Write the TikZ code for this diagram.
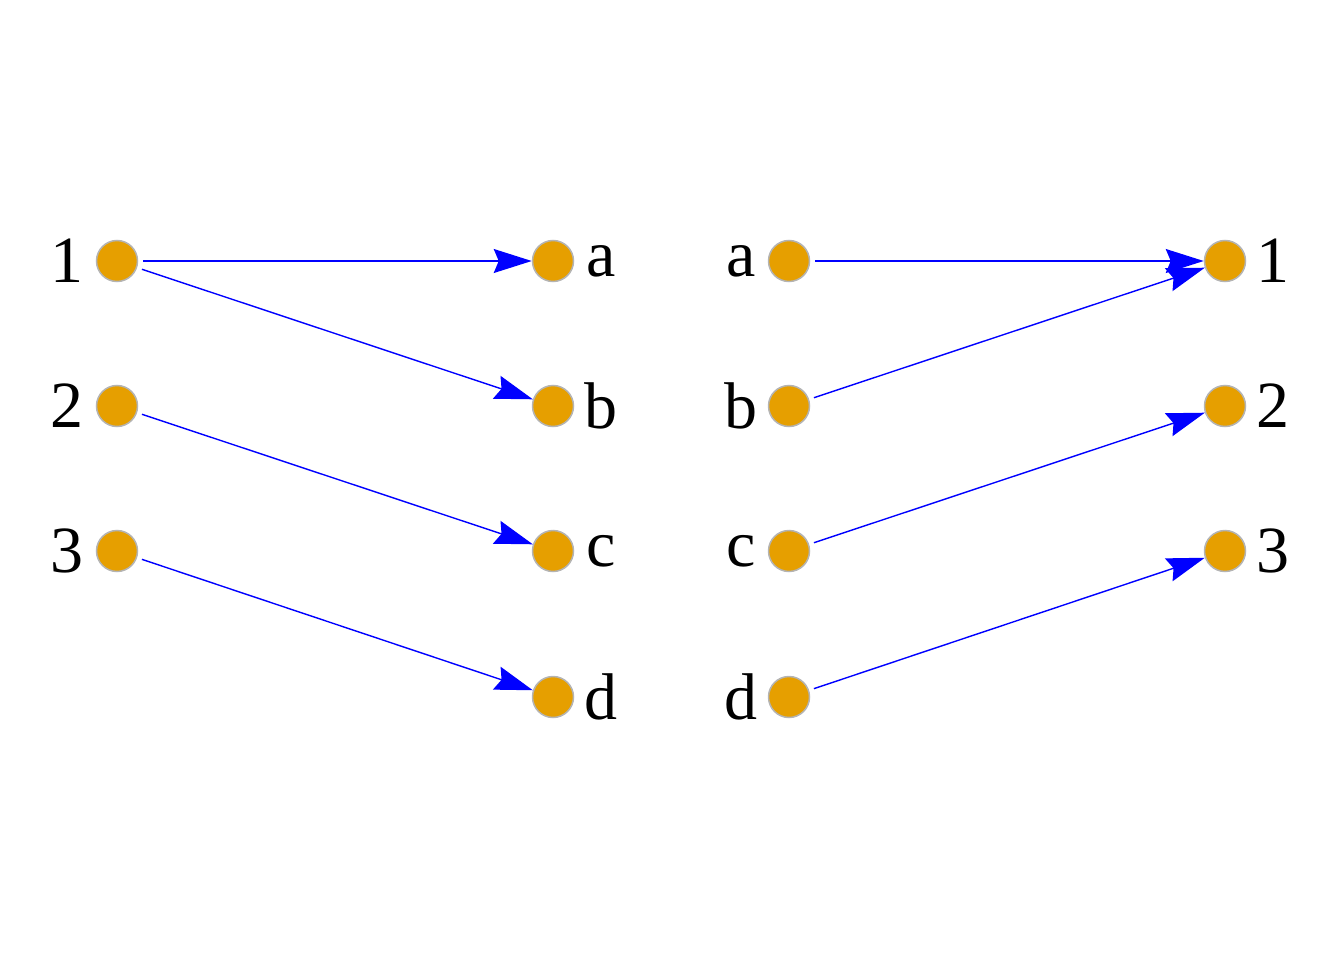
\documentclass[tikz,border=0pt]{standalone}
\usepackage{fontspec}
\setmainfont{Liberation Serif}
\usetikzlibrary{arrows.meta}
\definecolor{vfill}{HTML}{E69F00}
\definecolor{vline}{HTML}{B4B4B4}
\definecolor{eblue}{HTML}{0000FF}
\begin{document}
\begin{tikzpicture}[x=1pt,y=-1pt,
  vert/.style={circle,fill=vfill,draw=vline,line width=1.5pt,minimum size=41pt,inner sep=0pt},
  lab/.style={font=\fontsize{66}{66}\selectfont,inner sep=0pt,anchor=center},
  edge/.style={draw=eblue,line width=1.4pt,shorten <=5pt,-{Stealth[length=38pt,width=24pt,inset=5pt]}}]
\useasboundingbox (0,0) rectangle (1344,960);
% left graph
\node[vert] (l1) at (117,261) {};
\node[vert] (l2) at (117,406) {};
\node[vert] (l3) at (117,551) {};
\node[vert] (la) at (553,261) {};
\node[vert] (lb) at (553,406) {};
\node[vert] (lc) at (553,551) {};
\node[vert] (ld) at (553,697) {};
\node[lab] (tl1) at (67,261) {1};
\node[lab] (tl2) at (67,406) {2};
\node[lab] (tl3) at (67,551) {3};
\node[lab] (tla) at (601,261) {a};
\node[lab] (tlb) at (601,406) {b};
\node[lab] (tlc) at (601,551) {c};
\node[lab] (tld) at (601,697) {d};
\draw[edge] (l1) -- (la);
\draw[edge] (l1) -- (lb);
\draw[edge] (l2) -- (lc);
\draw[edge] (l3) -- (ld);
% right graph
\node[vert] (ra) at (789,261) {};
\node[vert] (rb) at (789,406) {};
\node[vert] (rc) at (789,551) {};
\node[vert] (rd) at (789,697) {};
\node[vert] (r1) at (1225,261) {};
\node[vert] (r2) at (1225,406) {};
\node[vert] (r3) at (1225,551) {};
\node[lab] (tra) at (741,261) {a};
\node[lab] (trb) at (741,406) {b};
\node[lab] (trc) at (741,551) {c};
\node[lab] (trd) at (741,697) {d};
\node[lab] (tr1) at (1273,261) {1};
\node[lab] (tr2) at (1273,406) {2};
\node[lab] (tr3) at (1273,551) {3};
\draw[edge] (ra) -- (r1);
\draw[edge] (rb) -- (r1);
\draw[edge] (rc) -- (r2);
\draw[edge] (rd) -- (r3);
\end{tikzpicture}
\end{document}
